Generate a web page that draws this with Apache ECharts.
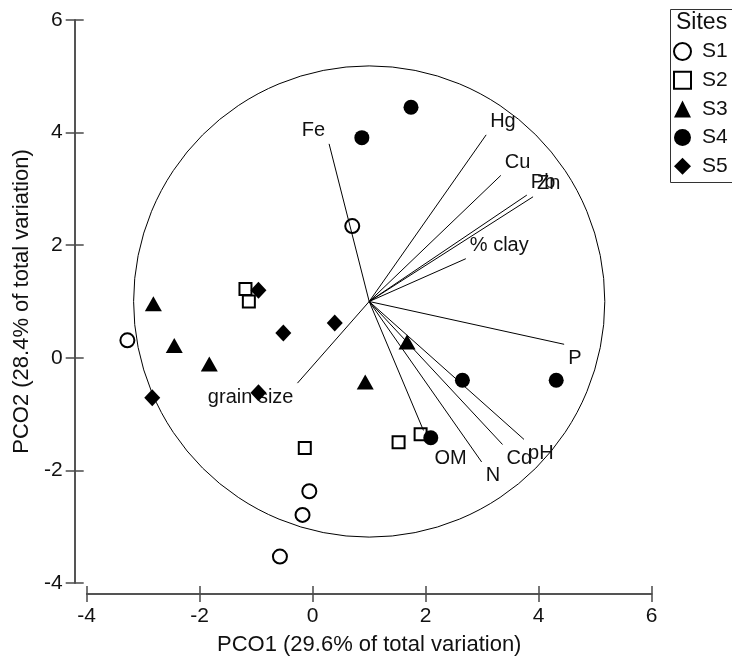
<!DOCTYPE html>
<html>
<head>
<meta charset="utf-8">
<script src="https://cdn.jsdelivr.net/npm/echarts@6/dist/echarts.min.js"></script>
<style>
html,body{margin:0;padding:0;background:#fff;overflow:hidden}
#c{width:732px;height:661px}
</style>
</head>
<body>
<div id="c"></div>
<script>
// ---------- data ----------
const siteNames = ['S1', 'S2', 'S3', 'S4', 'S5'];
const s1Points = [[0.70, 2.34], [-3.28, 0.31], [-0.06, -2.37], [-0.18, -2.79], [-0.58, -3.53]];
const s2Points = [[-1.19, 1.22], [-1.13, 1.00], [-0.14, -1.60], [1.52, -1.50], [1.91, -1.36]];
const s3Points = [[-2.82, 0.96], [-2.45, 0.22], [-1.83, -0.11], [0.93, -0.43], [1.67, 0.28]];
const s4Points = [[1.74, 4.45], [0.87, 3.91], [2.65, -0.40], [4.31, -0.40], [2.09, -1.42]];
const s5Points = [[-0.96, 1.20], [0.39, 0.62], [-0.52, 0.44], [-2.84, -0.71], [-0.96, -0.62]];

const vectorNames = ['Fe', 'Hg', 'Cu', 'Pb', 'Zn', '% clay', 'P', 'grain size', 'OM', 'N', 'Cd', 'pH'];
const vectorEndX = [0.29, 3.07, 3.33, 3.79, 3.90, 2.71, 4.45, -0.27, 1.96, 2.99, 3.36, 3.74];
const vectorEndY = [3.80, 3.96, 3.24, 2.89, 2.86, 1.76, 0.24, -0.45, -1.29, -1.85, -1.54, -1.45];
const vectorOrigin = [1, 1];
const circleRadius = 4.17;

const xTickLabels = [-4, -2, 0, 2, 4, 6];
const yTickLabels = [-4, -2, 0, 2, 4, 6];
const xTitle = 'PCO1 (29.6% of total variation)';
const yTitle = 'PCO2 (28.4% of total variation)';
const legendTitle = 'Sites';

// ---------- styling ----------
const FONT = 'Liberation Sans, Arial, Helvetica, sans-serif';
const AXIS_COLOR = '#4a4a4a';
const labelNudge = { 'OM': [7, 14] };

const xMin = xTickLabels[0], xMax = xTickLabels[xTickLabels.length - 1];
const yMin = yTickLabels[0], yMax = yTickLabels[yTickLabels.length - 1];
const xStep = xTickLabels[1] - xTickLabels[0];
const yStep = yTickLabels[1] - yTickLabels[0];

function makeX(primary) {
  return {
    type: 'value', min: xMin, max: xMax, interval: xStep,
    position: 'bottom', offset: 11,
    name: primary ? xTitle : '', nameLocation: 'middle', nameGap: 40,
    nameTextStyle: { fontSize: 22, fontFamily: FONT, color: '#111' },
    axisLine: { show: true, onZero: false, lineStyle: { color: AXIS_COLOR, width: 1.5 } },
    axisTick: { show: true, inside: !primary, length: 8, lineStyle: { color: AXIS_COLOR, width: 1.5 } },
    axisLabel: { show: primary, fontSize: 21, fontFamily: FONT, color: '#111', margin: 12 },
    splitLine: { show: false }
  };
}
function makeY(primary) {
  return {
    type: 'value', min: yMin, max: yMax, interval: yStep,
    position: 'left', offset: 12,
    name: primary ? yTitle : '', nameLocation: 'middle', nameGap: 42, nameRotate: 90,
    nameTextStyle: { fontSize: 22, fontFamily: FONT, color: '#111' },
    axisLine: { show: true, onZero: false, lineStyle: { color: AXIS_COLOR, width: 1.5 } },
    axisTick: { show: true, inside: !primary, length: 9, lineStyle: { color: AXIS_COLOR, width: 1.5 } },
    axisLabel: { show: primary, fontSize: 21, fontFamily: FONT, color: '#111', margin: 12 },
    splitLine: { show: false }
  };
}

const siteStyles = [
  { symbol: 'circle', size: 14, item: { color: 'rgba(255,255,255,0)', borderColor: '#000', borderWidth: 2, opacity: 1 } },
  { symbol: 'rect', size: 12, item: { color: 'rgba(255,255,255,0)', borderColor: '#000', borderWidth: 2, opacity: 1 } },
  { symbol: 'triangle', size: [17, 15], item: { color: '#000', opacity: 1 } },
  { symbol: 'circle', size: 15, item: { color: '#000', opacity: 1 } },
  { symbol: 'diamond', size: [16, 17], item: { color: '#000', opacity: 1 } }
];
const sitePoints = [s1Points, s2Points, s3Points, s4Points, s5Points];

const chart = echarts.init(document.getElementById('c'), null, { renderer: 'canvas' });

const series = [];
// circle of correlation
series.push({
  type: 'custom', silent: true, clip: false, z: 1,
  data: [[vectorOrigin[0], vectorOrigin[1], circleRadius]],
  renderItem(params, api) {
    const c = api.coord([api.value(0), api.value(1)]);
    const r = api.size([api.value(2), 0])[0];
    return { type: 'circle', shape: { cx: c[0], cy: c[1], r: r },
      style: { fill: 'none', stroke: '#000', lineWidth: 1 } };
  }
});
// vectors
series.push({
  type: 'custom', silent: true, clip: false, z: 2,
  data: vectorEndX.map((x, i) => [x, vectorEndY[i], i]),
  renderItem(params, api) {
    const o = api.coord(vectorOrigin);
    const ex = api.value(0), ey = api.value(1);
    const e = api.coord([ex, ey]);
    const name = vectorNames[api.value(2)];
    const right = ex >= vectorOrigin[0];
    const up = ey >= vectorOrigin[1];
    const n = labelNudge[name] || [0, 0];
    return {
      type: 'group',
      children: [
        { type: 'line', shape: { x1: o[0], y1: o[1], x2: e[0], y2: e[1] },
          style: { stroke: '#000', lineWidth: 1 } },
        { type: 'text', x: e[0] + (right ? 4 : -4) + n[0], y: e[1] + (up ? -3 : 4) + n[1],
          style: { text: name, align: right ? 'left' : 'right', verticalAlign: up ? 'bottom' : 'top',
            fontSize: 20, fontFamily: FONT, fill: '#111' } }
      ]
    };
  }
});
siteNames.forEach((nm, i) => {
  series.push({
    name: nm, type: 'scatter', z: 5,
    symbol: siteStyles[i].symbol, symbolSize: siteStyles[i].size,
    itemStyle: siteStyles[i].item,
    emphasis: { disabled: true },
    data: sitePoints[i]
  });
});

chart.setOption({
  animation: false,
  backgroundColor: '#fff',
  textStyle: { fontFamily: FONT },
  title: {
    text: legendTitle, left: 676, top: 11, padding: 0,
    textStyle: { fontSize: 23, fontWeight: 'normal', fontFamily: FONT, color: '#111' }
  },
  legend: {
    data: siteNames, orient: 'vertical', left: 670, top: 9,
    padding: [32, 0, 6, 3],
    itemWidth: 17, itemHeight: 17, itemGap: 7.7,
    itemStyle: { opacity: 1 },
    textStyle: { fontSize: 21, fontFamily: FONT, color: '#111', lineHeight: 21, padding: [0, 0, 0, 6] },
    selectedMode: false
  },
  graphic: [{
    type: 'rect', silent: true, z: 10,
    shape: { x: 670.5, y: 9.5, width: 120, height: 173 },
    style: { fill: 'none', stroke: '#333', lineWidth: 1 }
  }],
  grid: { left: 86.7, right: 80.3, top: 20, bottom: 76, containLabel: false },
  xAxis: [makeX(true), makeX(false)],
  yAxis: [makeY(true), makeY(false)],
  series: series
});
</script>
</body>
</html>
